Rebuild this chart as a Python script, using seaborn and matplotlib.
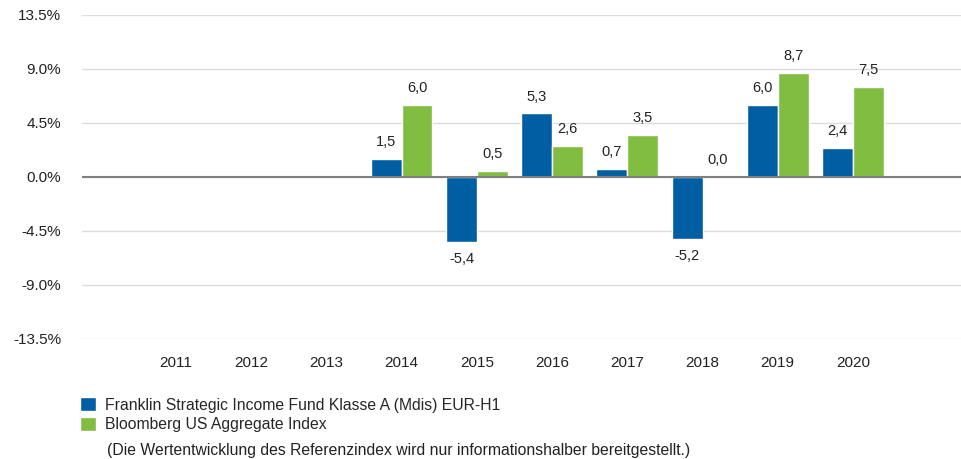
import matplotlib
matplotlib.use("Agg")
import matplotlib.pyplot as plt
import seaborn as sns
import pandas as pd
import numpy as np
from matplotlib.patches import Patch

# Daten (Jahresrenditen in %)
years = ['2011', '2012', '2013', '2014', '2015', '2016', '2017', '2018', '2019', '2020']
fund = [np.nan, np.nan, np.nan, 1.5, -5.4, 5.3, 0.7, -5.2, 6.0, 2.4]
index = [np.nan, np.nan, np.nan, 6.0, 0.5, 2.6, 3.5, 0.0, 8.7, 7.5]
series_names = ['Franklin Strategic Income Fund Klasse A (Mdis) EUR-H1',
                'Bloomberg US Aggregate Index']
yticks = [-13.5, -9.0, -4.5, 0.0, 4.5, 9.0, 13.5]
note = '(Die Wertentwicklung des Referenzindex wird nur informationshalber bereitgestellt.)'

colors = ['#005EA3', '#80BD41']

df = pd.DataFrame({
    'Jahr': years * 2,
    'Wert': fund + index,
    'Serie': [series_names[0]] * len(years) + [series_names[1]] * len(years),
})

sns.set_style('white')
plt.rcParams['font.family'] = ['Liberation Sans', 'DejaVu Sans']

fig = plt.figure(figsize=(9.62, 4.59), dpi=100)
ax = fig.add_axes([82 / 962, 120 / 459, 880 / 962, 324 / 459])

sns.barplot(data=df, x='Jahr', y='Wert', hue='Serie', order=years,
            hue_order=series_names, palette=colors, errorbar=None,
            width=0.82, saturation=1, ax=ax, legend=False, zorder=3)

ax.set_ylim(-13.5, 13.5)
ax.set_xlim(-1.25, 10.45)
ax.set_yticks(yticks)
ax.set_yticklabels([f'{v:.1f}%' for v in yticks])
ax.yaxis.grid(True, color='#dcdcdc', linewidth=1, zorder=0)
ax.axhline(0, color='#7f7f7f', linewidth=1.5, zorder=4)
for s in ax.spines.values():
    s.set_visible(False)
ax.tick_params(axis='both', length=0, labelsize=11, colors='#222222')
ax.tick_params(axis='y', pad=15)
ax.tick_params(axis='x', pad=12)
ax.set_xlabel('')
ax.set_ylabel('')

for c in ax.containers:
    labels = ['' if np.isnan(v) else f'{v:.1f}'.replace('.', ',') for v in c.datavalues]
    ax.bar_label(c, labels=labels, padding=7, fontsize=10.5, color='#222222')

handles = [Patch(facecolor=colors[0]), Patch(facecolor=colors[1])]
fig.legend(handles, series_names, loc='upper left', bbox_to_anchor=(74 / 962, 1 - 391 / 459),
           frameon=False, fontsize=11.3, handlelength=1.0, handleheight=1.0,
           handletextpad=0.6, labelspacing=0.25, borderaxespad=0)
fig.text(107 / 962, 1 - 451 / 459, note, fontsize=11.3, va='center', ha='left', color='#222222')

fig.savefig('out.png', dpi=100)
